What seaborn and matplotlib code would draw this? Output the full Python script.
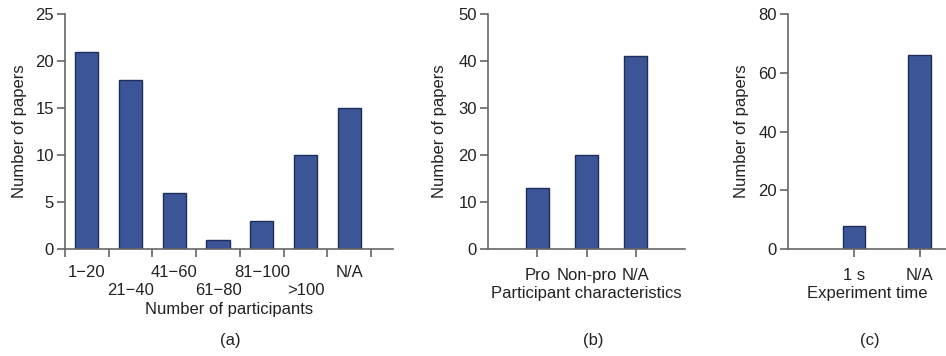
import pandas as pd
import matplotlib
matplotlib.use('Agg')
import matplotlib.pyplot as plt
import matplotlib.transforms as mtransforms
import seaborn as sns

# Dữ liệu
participants = ['1\u221220', '21\u221240', '41\u221260', '61\u221280', '81\u2212100', '>100', 'N/A']
participants_papers = [21, 18, 6, 1, 3, 10, 15]

characteristics = ['Pro', 'Non-pro', 'N/A']
characteristics_papers = [13, 20, 41]

exp_time = ['1 s', 'N/A']
exp_time_papers = [8, 66]

sns.set_style('white')
plt.rcParams['font.family'] = ['Liberation Sans', 'DejaVu Sans']
FS = 12

bar_color = '#3b5597'
edge_color = '#1e2d57'
axis_color = '#666666'
text_color = '#222222'

fig = plt.figure(figsize=(9.46, 3.56), dpi=100)
H = 356
W = 946


def make_ax(x0, x1, y0=14, y1=249):
    return fig.add_axes([x0 / W, 1 - y1 / H, (x1 - x0) / W, (y1 - y0) / H])


def style_ax(ax):
    sns.despine(ax=ax)
    for s in ['left', 'bottom']:
        ax.spines[s].set_color(axis_color)
        ax.spines[s].set_linewidth(1.2)
    ax.tick_params(axis='both', which='major', direction='out', length=6, width=1.2,
                   bottom=True, left=True,
                   color=axis_color, labelcolor=text_color, labelsize=FS, pad=2)
    ax.set_ylabel('Number of papers', color=text_color, fontsize=FS)


# Biểu đồ (a)
ax1 = make_ax(65, 393)
df1 = pd.DataFrame({'cat': participants, 'n': participants_papers})
sns.barplot(data=df1, x='cat', y='n', color=bar_color, edgecolor=edge_color,
            linewidth=1, width=0.53, saturation=1, ax=ax1)
style_ax(ax1)
ax1.set_xlim(-0.5, 7.0)
ax1.set_ylim(0, 25)
ax1.set_yticks([0, 5, 10, 15, 20, 25])
ax1.set_xticks([i - 0.5 for i in range(len(participants) + 1)])
ax1.set_xticklabels([])
# nhãn so le hai hàng
trans = mtransforms.blended_transform_factory(ax1.transData, ax1.transAxes)
for i, lab in enumerate(participants):
    y = -0.1 if i % 2 == 0 else -0.175
    ax1.text(i, y, lab, transform=trans, ha='center', va='center',
             fontsize=FS, color=text_color)
ax1.set_xlabel('Number of participants', color=text_color, fontsize=FS, labelpad=30)
ax1.yaxis.set_label_coords(-0.115, 0.5)

# Biểu đồ (b)
ax2 = make_ax(488, 685)
df2 = pd.DataFrame({'cat': characteristics, 'n': characteristics_papers})
sns.barplot(data=df2, x='cat', y='n', color=bar_color, edgecolor=edge_color,
            linewidth=1, width=0.46, saturation=1, ax=ax2)
style_ax(ax2)
ax2.set_xlim(-1, 3)
ax2.set_ylim(0, 50)
ax2.set_yticks([0, 10, 20, 30, 40, 50])
ax2.set_xlabel('Participant characteristics', color=text_color, fontsize=FS, labelpad=2)
ax2.tick_params(axis='x', pad=8)
ax2.yaxis.set_label_coords(-0.208, 0.5)

# Biểu đồ (c)
ax3 = make_ax(788, 946)
df3 = pd.DataFrame({'cat': exp_time, 'n': exp_time_papers})
sns.barplot(data=df3, x='cat', y='n', color=bar_color, edgecolor=edge_color,
            linewidth=1, width=0.34, saturation=1, ax=ax3)
style_ax(ax3)
ax3.set_xlim(-1, 1.4)
ax3.set_ylim(0, 80)
ax3.set_yticks([0, 20, 40, 60, 80])
ax3.set_xlabel('Experiment time', color=text_color, fontsize=FS, labelpad=2)
ax3.tick_params(axis='x', pad=8)
ax3.yaxis.set_label_coords(-0.247, 0.5)

# Nhãn (a), (b), (c)
for x, lab in [(230, '(a)'), (593, '(b)'), (870, '(c)')]:
    fig.text(x / W, 1 - 341 / H, lab, ha='center', va='center', fontsize=FS, color=text_color)

fig.savefig('out.png', dpi=100)
